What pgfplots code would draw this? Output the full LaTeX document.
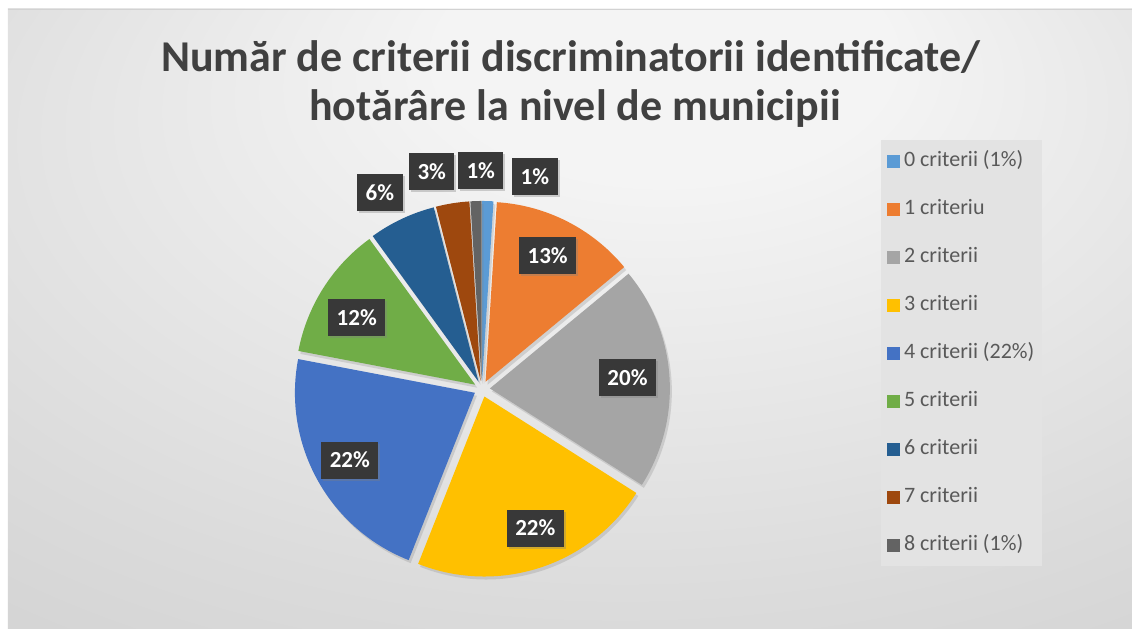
\documentclass[border=0pt]{standalone}
\usepackage{fontspec}
\setmainfont{Carlito}
\usepackage{pgfplots}
\pgfplotsset{compat=1.18}
\usepackage{pgfplotstable}
\usetikzlibrary{shadows}

\definecolor{c0}{HTML}{5B9BD5}
\definecolor{c1}{HTML}{ED7D31}
\definecolor{c2}{HTML}{A5A5A5}
\definecolor{c3}{HTML}{FFC000}
\definecolor{c4}{HTML}{4472C4}
\definecolor{c5}{HTML}{70AD47}
\definecolor{c6}{HTML}{255E91}
\definecolor{c7}{HTML}{9E480E}
\definecolor{c8}{HTML}{636363}
\definecolor{titlegray}{HTML}{404040}
\definecolor{lgtext}{HTML}{595959}
\definecolor{lgbox}{HTML}{E3E3E3}
\definecolor{lblbox}{HTML}{383838}
\definecolor{bgin}{HTML}{F4F4F4}
\definecolor{bgmid}{HTML}{DBDBDB}
\definecolor{bgout}{HTML}{C2C2C2}
\pgfdeclareradialshading{chartbg}{\pgfpoint{5bp}{25bp}}{color(0bp)=(bgin); color(10bp)=(bgin); color(35bp)=(bgmid); color(65bp)=(bgout)}

\tikzset{lbl/.style={fill=lblbox, text=white, font=\fontsize{23}{23}\selectfont\bfseries,
    inner xsep=8.5pt, inner ysep=0pt, minimum height=37pt,
    drop shadow={opacity=0.35, shadow xshift=2pt, shadow yshift=-2pt}}}

% share in percent, label radius and label angle (pixels/degrees from pie centre)
\pgfplotstableread{
idx pct lr  la
0   1   219 76
1   13  149 63.8
2   20  146 4.3
3   22  149 -69
4   22  150 -151.7
5   12  144 150.4
6   6   221 117.5
7   3   223 103
8   1   218 90.3
}\piedata

\begin{document}
\begin{tikzpicture}
\begin{axis}[
    width=1132pt, height=629pt, scale only axis,
    xmin=0, xmax=1132, ymin=0, ymax=629,
    hide axis,
    clip=false,
    legend image code/.code={\fill[#1, draw=none] (0pt,-6.5pt) rectangle (13pt,6.5pt);},
    legend cell align=left,
    legend style={at={(axis cs:881,489)}, anchor=north west,
        draw=none, fill=lgbox,
        font=\fontsize{22}{22}\selectfont, text=lgtext,
        inner xsep=6pt, inner ysep=11pt, row sep=28pt, column sep=2pt,
        nodes={inner xsep=2pt, inner ysep=0pt, text height=15pt, text depth=5pt}},
]
\fill[white] (axis cs:0,0) rectangle (axis cs:1132,629);
\shade[shading=chartbg] (axis cs:8,0) rectangle (axis cs:1132,620);
\draw[gray!35] (axis cs:8,620) -- (axis cs:1132,620);

\node[font=\fontsize{44}{44}\selectfont\bfseries, text=titlegray, anchor=base]
    at (axis cs:571,557) {Număr de criterii discriminatorii identificate/};
\node[font=\fontsize{44}{44}\selectfont\bfseries, text=titlegray, anchor=base]
    at (axis cs:575,508) {hotărâre la nivel de municipii};

% slices, exploded by 8 units along their bisector
\def\cum{0}
\pgfplotsforeachungrouped \i in {0,...,8}{%
  \pgfplotstablegetelem{\i}{pct}\of\piedata \let\p\pgfplotsretval
  \pgfmathsetmacro\sa{90-3.6*\cum}
  \pgfmathsetmacro\sb{\sa-3.6*\p}
  \pgfmathsetmacro\sm{(\sa+\sb)/2}
  \pgfmathsetmacro\ox{482+8*cos(\sm)}
  \pgfmathsetmacro\oy{240+8*sin(\sm)}
  \edef\slice{\noexpand\fill[c\i, drop shadow={opacity=0.25, shadow xshift=2pt, shadow yshift=-3pt}]
    (axis cs:\ox,\oy) -- ++(\sa:180pt) arc[start angle=\sa, end angle=\sb, radius=180pt] -- cycle;}%
  \slice
  \pgfmathsetmacro\cum{\cum+\p}%
}
% data labels
\pgfplotsforeachungrouped \i in {0,...,8}{%
  \pgfplotstablegetelem{\i}{pct}\of\piedata \let\p\pgfplotsretval
  \pgfplotstablegetelem{\i}{lr}\of\piedata \let\lr\pgfplotsretval
  \pgfplotstablegetelem{\i}{la}\of\piedata \let\la\pgfplotsretval
  \pgfmathsetmacro\lx{482+\lr*cos(\la)}
  \pgfmathsetmacro\ly{240+\lr*sin(\la)}
  \edef\lab{\noexpand\node[lbl] at (axis cs:\lx,\ly) {\p\noexpand\%};}%
  \lab
}

\addlegendimage{c0}\addlegendentry{0 criterii (1\%)}
\addlegendimage{c1}\addlegendentry{1 criteriu}
\addlegendimage{c2}\addlegendentry{2 criterii}
\addlegendimage{c3}\addlegendentry{3 criterii}
\addlegendimage{c4}\addlegendentry{4 criterii (22\%)}
\addlegendimage{c5}\addlegendentry{5 criterii}
\addlegendimage{c6}\addlegendentry{6 criterii}
\addlegendimage{c7}\addlegendentry{7 criterii}
\addlegendimage{c8}\addlegendentry{8 criterii (1\%)}
\end{axis}
\end{tikzpicture}
\end{document}
